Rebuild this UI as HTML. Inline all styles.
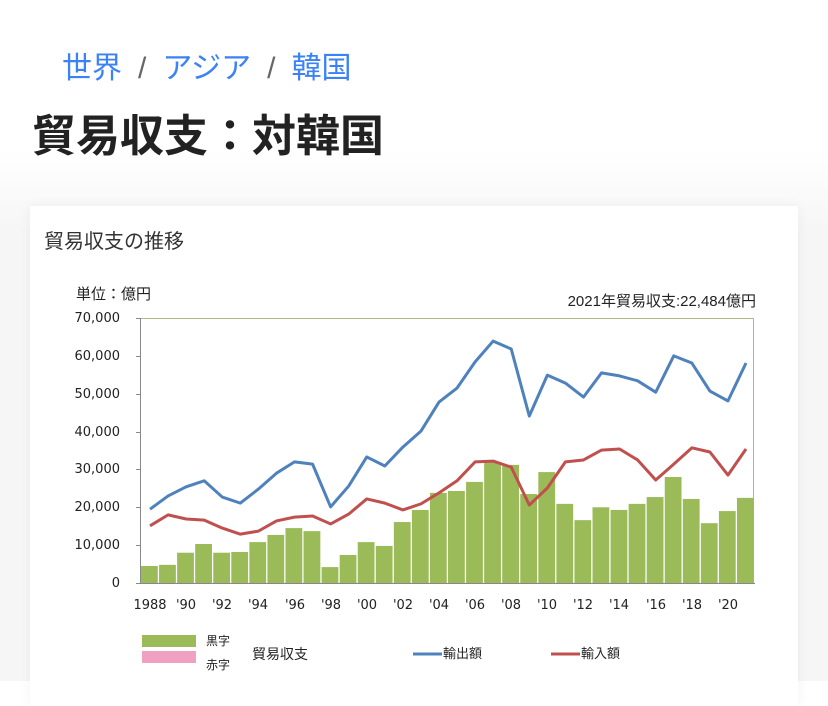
<!DOCTYPE html>
<html><head><meta charset="utf-8"><style>
body{margin:0;width:828px;height:681px;overflow:hidden;background:linear-gradient(#fff 0,#fff 150px,#f6f6f6 230px,#f6f6f6 681px);font-family:"Liberation Sans","Noto Sans CJK JP",sans-serif;position:relative}
.bc{position:absolute;left:62px;top:43px;font-size:30px;color:#3b82f6;white-space:nowrap}
.bc .s{color:#666;margin:0 16px}
h1{position:absolute;left:32px;top:110px;margin:0;font-size:44px;font-weight:bold;color:#222;line-height:54px}
.card{position:absolute;left:30px;top:206px;width:768px;height:500px;background:#fff;box-shadow:0 0 12px rgba(0,0,0,0.05)}
.ct{position:absolute;left:14px;top:19px;font-size:20px;color:#333}
svg{position:absolute;left:0;top:0}
</style></head><body>
<div class="bc">世界<span class="s">/</span>アジア<span class="s">/</span>韓国</div>
<h1>貿易収支：対韓国</h1>
<div class="card"><div class="ct">貿易収支の推移</div></div>
<svg width="828" height="681" viewBox="0 0 828 681" font-family="DejaVu Sans, Noto Sans CJK JP, sans-serif">
<g font-size="15" fill="#222" font-family="Liberation Sans, Noto Sans CJK JP, sans-serif">
<text x="76" y="299">単位：億円</text>
<text x="756" y="306" text-anchor="end" font-size="15">2021年貿易収支:22,484億円</text>
</g>
<rect x="140.5" y="318.5" width="613" height="265" fill="none" stroke="#b8b48a" stroke-width="1"/>
<line x1="140.5" y1="318" x2="140.5" y2="584" stroke="#888"/>
<line x1="140" y1="583.5" x2="755" y2="583.5" stroke="#888"/>
<g stroke="#888"><line x1="136" x2="140" y1="318.5" y2="318.5"/><line x1="136" x2="140" y1="356.5" y2="356.5"/><line x1="136" x2="140" y1="394.5" y2="394.5"/><line x1="136" x2="140" y1="432.5" y2="432.5"/><line x1="136" x2="140" y1="469.5" y2="469.5"/><line x1="136" x2="140" y1="507.5" y2="507.5"/><line x1="136" x2="140" y1="545.5" y2="545.5"/><line x1="136" x2="140" y1="583.5" y2="583.5"/></g>
<g font-size="13" fill="#222" text-anchor="end">
<text x="120" y="322">70,000</text><text x="120" y="360">60,000</text><text x="120" y="398">50,000</text><text x="120" y="436">40,000</text><text x="120" y="473">30,000</text><text x="120" y="511">20,000</text><text x="120" y="549">10,000</text><text x="120" y="587">0</text>
</g>
<g transform="translate(141,583) scale(18.06,-0.003786)">
<g fill="#9bbb59">
<rect x="0" width="0.93" height="4500"/><rect x="1" width="0.93" height="4800"/><rect x="2" width="0.93" height="8000"/><rect x="3" width="0.93" height="10300"/><rect x="4" width="0.93" height="8000"/><rect x="5" width="0.93" height="8200"/><rect x="6" width="0.93" height="10800"/><rect x="7" width="0.93" height="12700"/><rect x="8" width="0.93" height="14500"/><rect x="9" width="0.93" height="13700"/><rect x="10" width="0.93" height="4200"/><rect x="11" width="0.93" height="7400"/><rect x="12" width="0.93" height="10800"/><rect x="13" width="0.93" height="9800"/><rect x="14" width="0.93" height="16100"/><rect x="15" width="0.93" height="19300"/><rect x="16" width="0.93" height="23800"/><rect x="17" width="0.93" height="24300"/><rect x="18" width="0.93" height="26700"/><rect x="19" width="0.93" height="32000"/><rect x="20" width="0.93" height="31200"/><rect x="21" width="0.93" height="23500"/><rect x="22" width="0.93" height="29300"/><rect x="23" width="0.93" height="20900"/><rect x="24" width="0.93" height="16600"/><rect x="25" width="0.93" height="20000"/><rect x="26" width="0.93" height="19300"/><rect x="27" width="0.93" height="20900"/><rect x="28" width="0.93" height="22700"/><rect x="29" width="0.93" height="28000"/><rect x="30" width="0.93" height="22200"/><rect x="31" width="0.93" height="15800"/><rect x="32" width="0.93" height="19000"/><rect x="33" width="0.93" height="22484"/>
</g>
<polyline fill="none" stroke="#4f81bd" stroke-width="3" vector-effect="non-scaling-stroke" stroke-linejoin="round" points="0.5,19500 1.5,23000 2.5,25400 3.5,27000 4.5,22700 5.5,21100 6.5,24800 7.5,29000 8.5,32000 9.5,31400 10.5,20100 11.5,25600 12.5,33300 13.5,30900 14.5,35900 15.5,40100 16.5,47800 17.5,51500 18.5,58400 19.5,63900 20.5,61800 21.5,44100 22.5,54900 23.5,52800 24.5,49100 25.5,55500 26.5,54700 27.5,53400 28.5,50400 29.5,60000 30.5,58100 31.5,50700 32.5,48100 33.5,58100"/>
<polyline fill="none" stroke="#c0504d" stroke-width="3" vector-effect="non-scaling-stroke" stroke-linejoin="round" points="0.5,15100 1.5,18000 2.5,16900 3.5,16600 4.5,14500 5.5,12900 6.5,13700 7.5,16400 8.5,17400 9.5,17700 10.5,15600 11.5,18200 12.5,22200 13.5,21100 14.5,19300 15.5,20900 16.5,23800 17.5,27000 18.5,32000 19.5,32200 20.5,30600 21.5,20600 22.5,25100 23.5,32000 24.5,32500 25.5,35100 26.5,35400 27.5,32500 28.5,27200 29.5,31400 30.5,35700 31.5,34600 32.5,28500 33.5,35400"/>
</g>
<g font-size="13" fill="#222" text-anchor="middle">
<text x="150" y="609">1988</text><text x="186" y="609">'90</text><text x="222" y="609">'92</text><text x="258" y="609">'94</text><text x="295" y="609">'96</text><text x="331" y="609">'98</text><text x="367" y="609">'00</text><text x="403" y="609">'02</text><text x="439" y="609">'04</text><text x="475" y="609">'06</text><text x="511" y="609">'08</text><text x="547" y="609">'10</text><text x="583" y="609">'12</text><text x="619" y="609">'14</text><text x="656" y="609">'16</text><text x="692" y="609">'18</text><text x="728" y="609">'20</text>
</g>
<rect x="142" y="635" width="54" height="12" fill="#9bbb59"/>
<rect x="142" y="651" width="54" height="12" fill="#f0a0c0"/>
<g font-family="Liberation Sans, Noto Sans CJK JP, sans-serif" fill="#222">
<text x="206" y="645" font-size="12">黒字</text>
<text x="206" y="669" font-size="12">赤字</text>
<text x="252" y="659" font-size="14">貿易収支</text>
<text x="443" y="658" font-size="13">輸出額</text>
<text x="581" y="658" font-size="13">輸入額</text>
</g>
<line x1="413" y1="654" x2="442" y2="654" stroke="#4f81bd" stroke-width="3"/>
<line x1="551" y1="654" x2="580" y2="654" stroke="#c0504d" stroke-width="3"/>
</svg>
</body></html>
